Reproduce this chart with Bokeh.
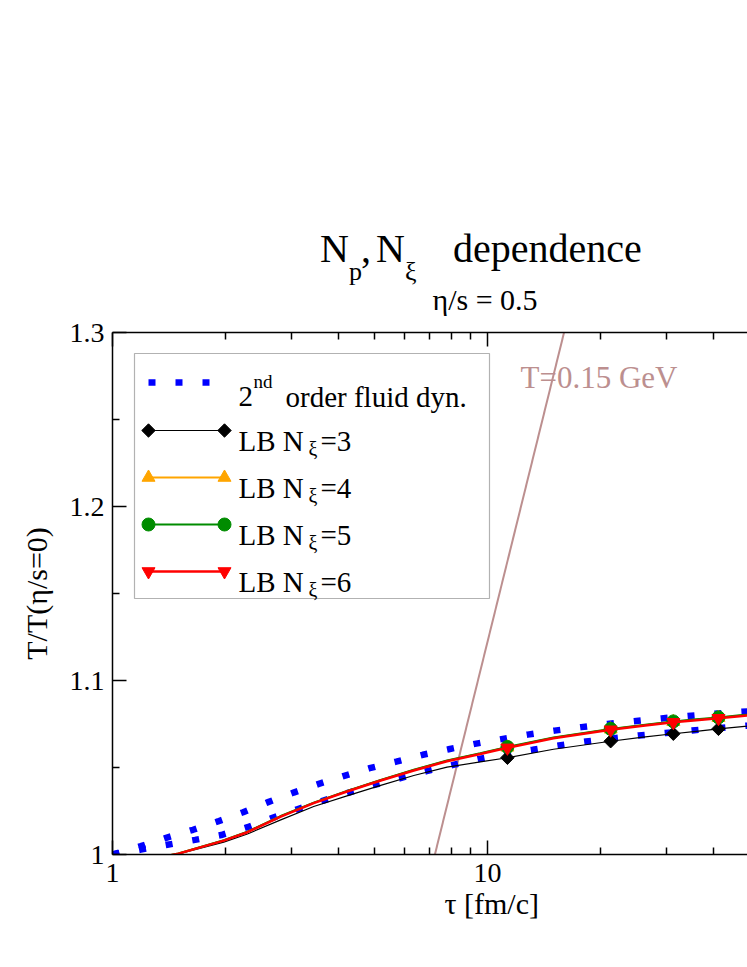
import math
from bokeh.plotting import figure
from bokeh.layouts import column
from bokeh.models import Range1d, FixedTicker, LogAxis, Label, BoxAnnotation, Div, Title
from bokeh.embed import file_html
from bokeh.resources import INLINE

# ---------------- data ----------------
# 2nd order fluid dynamics (two dotted curves)
tau_fd_a = [1.0, 1.19, 1.39, 1.64, 1.91, 2.23, 2.60, 3.04, 3.55, 4.15, 4.85, 5.71, 6.72,
            7.88, 9.25, 10.9, 12.8, 15.1, 17.8, 20.9, 24.6, 29.1, 34.2, 40.3, 47.6, 56.0]
T_fd_a = [1.0, 1.0048, 1.0096, 1.0142, 1.0190, 1.0243, 1.0301, 1.0356, 1.0406, 1.0452,
          1.0496, 1.0534, 1.0573, 1.0605, 1.0636, 1.0663, 1.0689, 1.0712, 1.0732, 1.0750,
          1.0766, 1.0782, 1.0796, 1.0809, 1.0820, 1.0830]
tau_fd_b = [1.0, 1.19, 1.40, 1.66, 1.95, 2.29, 2.66, 3.11, 3.65, 4.27, 4.99, 5.86, 6.88,
            8.10, 9.44, 11.1, 13.2, 15.5, 18.3, 21.5, 25.3, 29.8, 35.1, 41.3, 47.6, 56.0]
T_fd_b = [1.0, 1.0028, 1.0056, 1.0084, 1.0112, 1.0157, 1.0209, 1.0260, 1.0310, 1.0356,
          1.0400, 1.0439, 1.0479, 1.0515, 1.0548, 1.0577, 1.0602, 1.0626, 1.0649, 1.0667,
          1.0684, 1.0698, 1.0713, 1.0726, 1.0738, 1.0750]

# Lattice Boltzmann curves
tau_lb = [1.2, 1.5, 1.98, 2.29, 2.81, 3.44, 4.22, 5.19, 6.36, 7.80, 9.57, 11.3, 15.0,
          21.3, 26.0, 31.3, 36.0, 41.3, 47.0, 55.0]
T_lb3 = [0.9965, 1.0003, 1.0071, 1.0118, 1.0199, 1.0276, 1.0337, 1.0397, 1.0454, 1.0502,
         1.0532, 1.0556, 1.0605, 1.0651, 1.0675, 1.0694, 1.0708, 1.0722, 1.0734, 1.0746]
T_lb4 = [0.9963, 1.0006, 1.0081, 1.0130, 1.0220, 1.0297, 1.0364, 1.0427, 1.0486, 1.0539,
         1.0581, 1.0616, 1.0671, 1.0720, 1.0743, 1.0763, 1.0775, 1.0786, 1.0798, 1.0809]
T_lb5 = [0.9963, 1.0006, 1.0082, 1.0131, 1.0221, 1.0298, 1.0365, 1.0428, 1.0487, 1.0540,
         1.0582, 1.0618, 1.0673, 1.0722, 1.0745, 1.0765, 1.0777, 1.0788, 1.0800, 1.0811]
T_lb6 = [0.9962, 1.0005, 1.0080, 1.0128, 1.0218, 1.0295, 1.0362, 1.0425, 1.0483, 1.0536,
         1.0578, 1.0613, 1.0668, 1.0717, 1.0740, 1.0760, 1.0772, 1.0783, 1.0795, 1.0806]
tau_lb_markers = [11.3, 21.3, 31.3, 41.3]

# T = 0.15 GeV line
tau_tc = [7.24, 16.0]
T_tc = [1.0, 1.3]

y_ticks = [1.0, 1.1, 1.2, 1.3]
y_minor = [1.05, 1.15, 1.25]
y_tick_labels = ["1", "1.1", "1.2", "1.3"]
x_ticks = [1, 10, 100]
x_minor = [2, 3, 4, 5, 6, 7, 8, 9, 20, 30, 40, 50, 60, 70, 80, 90]
x_tick_labels = ["1", "10", "100"]

legend_labels = ["2", "nd", "order fluid dyn.", "LB N", "\u03be"]
legend_values = ["=3", "=4", "=5", "=6"]

# ---------------- layout (page pixels) ----------------
FONT = "Liberation Serif"
W = 747
FRAME_LEFT = 112
FRAME_TOP = 332
FRAME_BOTTOM = 854
FRAME_RIGHT = W
DECADE_PX = 375.0
TOP_BORDER = 14
BOTTOM_BORDER = 100
TITLE_H = FRAME_TOP - TOP_BORDER
FIG_H = TOP_BORDER + (FRAME_BOTTOM - FRAME_TOP) + BOTTOM_BORDER
y_lo, y_hi = 1.0, 1.3
UNIT_PX = (FRAME_BOTTOM - FRAME_TOP) / (y_hi - y_lo)
x_end = 10 ** ((FRAME_RIGHT - FRAME_LEFT) / DECADE_PX)
XLABEL_LEFT = 444


def dx(px):
    return 10 ** ((px - FRAME_LEFT) / DECADE_PX)


def dy(py):
    return y_lo + (FRAME_BOTTOM - py) / UNIT_PX


p = figure(width=W, height=FIG_H, x_axis_type="log",
           x_range=Range1d(1, x_end), y_range=Range1d(y_lo, y_hi),
           output_backend="svg", toolbar_location=None,
           min_border_left=FRAME_LEFT, min_border_right=0,
           min_border_top=TOP_BORDER, min_border_bottom=BOTTOM_BORDER, margin=0)
p.outline_line_color = None
p.xgrid.visible = False
p.ygrid.visible = False
p.background_fill_color = "white"
p.border_fill_color = "white"


def style_axis(ax):
    ax.axis_line_color = "black"
    ax.axis_line_width = 1.5
    ax.major_tick_line_color = "black"
    ax.minor_tick_line_color = "black"
    ax.major_tick_line_width = 1.5
    ax.minor_tick_line_width = 1.5
    ax.major_tick_in = 14
    ax.major_tick_out = 0
    ax.minor_tick_in = 7
    ax.minor_tick_out = 0
    ax.major_label_text_font = FONT
    ax.major_label_text_font_size = "28px"
    ax.major_label_text_color = "black"
    ax.axis_label_text_font = FONT
    ax.axis_label_text_font_size = "30px"
    ax.axis_label_text_font_style = "normal"
    ax.axis_label_text_color = "black"


xaxis = p.xaxis[0]
style_axis(xaxis)
xaxis.ticker = FixedTicker(ticks=x_ticks, minor_ticks=x_minor)
xaxis.major_label_overrides = {t: s for t, s in zip(x_ticks, x_tick_labels)}
xaxis.major_label_standoff = 9

yaxis = p.yaxis[0]
style_axis(yaxis)
yaxis.ticker = FixedTicker(ticks=y_ticks, minor_ticks=y_minor)
yaxis.major_label_overrides = {t: s for t, s in zip(y_ticks, y_tick_labels)}
yaxis.major_label_standoff = 8
yaxis.axis_label = "T/T(\u03b7/s=0)"
yaxis.axis_label_standoff = 14

top = LogAxis(ticker=FixedTicker(ticks=x_ticks, minor_ticks=x_minor))
style_axis(top)
top.major_label_text_color = None
top.major_label_text_font_size = "1px"
top.major_label_standoff = 0
p.add_layout(top, "above")

# x-axis label, placed where the reference puts it
p.add_layout(Title(text="\u03c4 [fm/c]", align="left", offset=XLABEL_LEFT - FRAME_LEFT,
                   text_font=FONT, text_font_size="30px", text_font_style="normal",
                   text_color="black", standoff=0), "below")

# ---------------- curves ----------------
BLUE = "#0000ff"
ORANGE = "#ffa500"
GREEN = "#008c00"
RED = "#ff0000"
BROWN = "#bc8f8f"
DOT = "7 20"

p.line(tau_tc, T_tc, line_color=BROWN, line_width=2)

p.line(tau_fd_a, T_fd_a, line_color=BLUE, line_width=6.5, line_dash=DOT, line_cap="butt")
p.line(tau_fd_b, T_fd_b, line_color=BLUE, line_width=6.5, line_dash=DOT, line_cap="butt")

series = [
    (T_lb3, "black", 1.2, "diamond"),
    (T_lb4, ORANGE, 2, "triangle"),
    (T_lb5, GREEN, 2, "circle"),
    (T_lb6, RED, 2.5, "inverted_triangle"),
]


def scatter_marker(xs, ys, color, kind):
    if kind == "diamond":
        p.scatter(xs, ys, marker="square", angle=math.pi / 4, size=9.5,
                  fill_color=color, line_color=color)
    else:
        p.scatter(xs, ys, marker=kind, size=13, fill_color=color, line_color=color)


for T, color, lw, kind in series:
    p.line(tau_lb, T, line_color=color, line_width=lw)
    lookup = dict(zip(tau_lb, T))
    scatter_marker(tau_lb_markers, [lookup[t] for t in tau_lb_markers], color, kind)

# ---------------- legend ----------------
p.add_layout(BoxAnnotation(left=dx(134), right=dx(489), top=dy(353), bottom=dy(598),
                           fill_color="white", fill_alpha=1.0, line_color="black",
                           line_width=1.2, level="underlay"))

SAMPLE_L, SAMPLE_R = 148, 224
p.line([dx(SAMPLE_L), dx(SAMPLE_R)], [dy(382), dy(382)], line_color=BLUE, line_width=6.5,
       line_dash=DOT, line_cap="butt")
row_y = [430, 477, 524, 571]
for (T, color, lw, kind), ry in zip(series, row_y):
    p.line([dx(SAMPLE_L), dx(SAMPLE_R)], [dy(ry), dy(ry)], line_color=color, line_width=lw)
    scatter_marker([dx(SAMPLE_L), dx(SAMPLE_R)], [dy(ry), dy(ry)], color, kind)


def add_text(px, py, text, size, color="black", align="left"):
    p.add_layout(Label(x=dx(px), y=dy(py), text=text, text_font=FONT,
                       text_font_size=f"{size}px", text_color=color,
                       text_align=align, text_baseline="alphabetic"))


add_text(238, 396, legend_labels[0], 29)
add_text(253, 381, legend_labels[1], 19)
add_text(285, 396, legend_labels[2], 29)
for ry, val in zip(row_y, legend_values):
    add_text(238, ry + 10, legend_labels[3], 29)
    add_text(308, ry + 18, legend_labels[4], 20)
    add_text(320, ry + 10, val, 29)

add_text(520, 377, "T=0.15 GeV", 31, color=BROWN)


# ---------------- title block (HTML, for the sub-scripts) ----------------
def span(px, baseline, text, size, origin_y, align="left", color="black"):
    top_px = baseline - 0.8375 * size - origin_y
    if align == "center":
        left = px - 200
        extra = "width:400px;text-align:center;"
    else:
        left = px
        extra = ""
    return (f'<span style="position:absolute;left:{left:.1f}px;top:{top_px:.1f}px;'
            f'font-family:\'{FONT}\';font-size:{size}px;line-height:1;white-space:nowrap;'
            f'color:{color};{extra}">{text}</span>')


title_html = "".join([
    span(320, 262, "N", 40, 0),
    span(349, 281, "p", 26, 0),
    span(361, 262, ",", 40, 0),
    span(376, 262, "N", 40, 0),
    span(405, 281, "\u03be", 26, 0),
    span(453, 262, "dependence", 40, 0),
    span(485, 310, "\u03b7/s = 0.5", 30, 0, align="center"),
])
title_div = Div(text=f'<div style="position:relative;width:{W}px;height:{TITLE_H}px;">'
                     f'{title_html}</div>', width=W, height=TITLE_H, margin=0)

layout = column(title_div, p, spacing=0)

open("out.html", "w").write(file_html(layout, INLINE))
